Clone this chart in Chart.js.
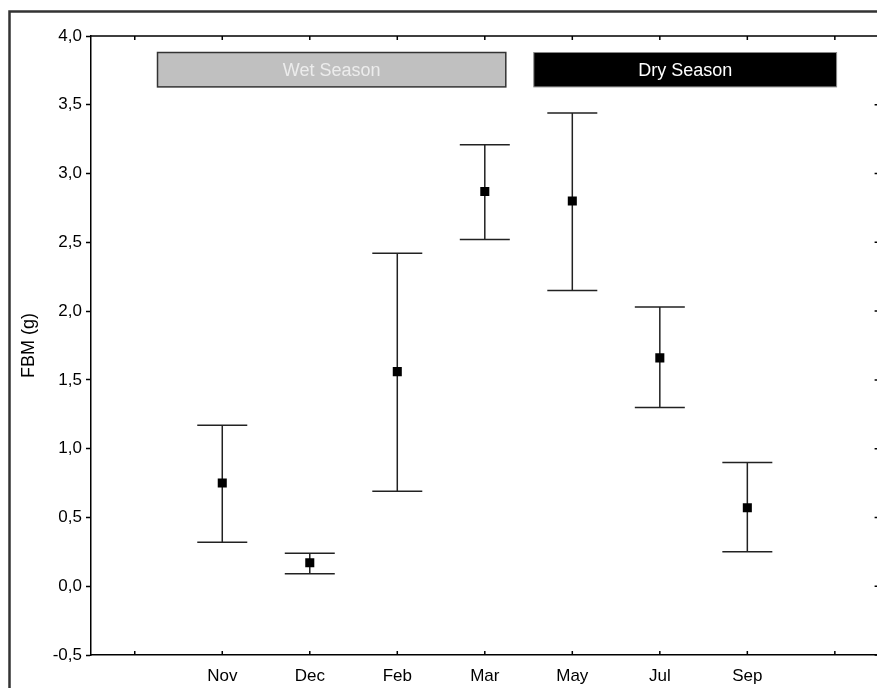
<!DOCTYPE html>
<html>
<head>
<meta charset="utf-8">
<script src="https://cdn.jsdelivr.net/npm/chart.js@4.4.1/dist/chart.umd.min.js"></script>
<style>
  html, body { margin: 0; padding: 0; background: #fff; overflow: hidden; }
  #wrap { width: 877px; height: 688px; overflow: hidden; }
</style>
</head>
<body>
<div id="wrap"><canvas id="fbm" width="885" height="688"></canvas></div>
<script>
// Values
const months = ["Nov", "Dec", "Feb", "Mar", "May", "Jul", "Sep"];
const meanFBM = [0.75, 0.17, 1.56, 2.87, 2.80, 1.66, 0.57];
const upperFBM = [1.17, 0.24, 2.42, 3.21, 3.44, 2.03, 0.90];
const lowerFBM = [0.32, 0.09, 0.69, 2.52, 2.15, 1.30, 0.25];

// Season bands (x in category units, y in FBM units)
const seasonNames = ["Wet Season", "Dry Season"];
const seasonFrom = [0.26, 4.56];
const seasonTo = [4.24, 8.02];
const seasonLow = [3.63, 3.63];
const seasonHigh = [3.88, 3.88];

const FONT = "'Liberation Sans', Arial, sans-serif";

// error bars behind the squares
const errorBars = {
  id: "errorBars",
  beforeDatasetsDraw(chart) {
    const { ctx, scales: { x, y } } = chart;
    ctx.save();
    ctx.strokeStyle = "#222";
    ctx.lineWidth = 1.5;
    months.forEach((m, i) => {
      const px = x.getPixelForValue(i + 1);
      const top = y.getPixelForValue(upperFBM[i]);
      const bot = y.getPixelForValue(lowerFBM[i]);
      ctx.beginPath();
      ctx.moveTo(px, top); ctx.lineTo(px, bot);
      ctx.moveTo(px - 25, top); ctx.lineTo(px + 25, top);
      ctx.moveTo(px - 25, bot); ctx.lineTo(px + 25, bot);
      ctx.stroke();
    });
    ctx.restore();
  }
};

// frame, inward ticks, season boxes
const decorations = {
  id: "decorations",
  beforeDraw(chart) {
    const ctx = chart.ctx;
    ctx.save();
    ctx.strokeStyle = "#333";
    ctx.lineWidth = 2.5;
    ctx.strokeRect(9.5, 11.5, 1000, 1000);
    ctx.restore();
  },
  afterDraw(chart) {
    const { ctx, chartArea: a, scales: { x, y } } = chart;
    ctx.save();
    ctx.strokeStyle = "#000";
    ctx.lineWidth = 1.5;
    ctx.beginPath();
    ctx.moveTo(a.left, a.top); ctx.lineTo(a.right, a.top); ctx.lineTo(a.right, a.bottom);
    for (let i = 0; i <= 8; i++) {
      const px = x.getPixelForValue(i);
      ctx.moveTo(px, a.top); ctx.lineTo(px, a.top + 4);
      ctx.moveTo(px, a.bottom); ctx.lineTo(px, a.bottom - 4);
    }
    y.ticks.forEach(t => {
      const py = y.getPixelForValue(t.value);
      ctx.moveTo(a.right, py); ctx.lineTo(a.right - 4, py);
    });
    ctx.stroke();

    seasonNames.forEach((name, i) => {
      const x0 = x.getPixelForValue(seasonFrom[i]);
      const x1 = x.getPixelForValue(seasonTo[i]);
      const y0 = y.getPixelForValue(seasonHigh[i]);
      const y1 = y.getPixelForValue(seasonLow[i]);
      ctx.fillStyle = i === 0 ? "#c0c0c0" : "#000";
      ctx.fillRect(x0, y0, x1 - x0, y1 - y0);
      ctx.strokeStyle = i === 0 ? "#333" : "#888";
      ctx.lineWidth = i === 0 ? 1.5 : 1;
      ctx.strokeRect(x0, y0, x1 - x0, y1 - y0);
      ctx.fillStyle = i === 0 ? "#ececec" : "#fff";
      ctx.font = "18px " + FONT;
      ctx.textAlign = "center";
      ctx.textBaseline = "middle";
      ctx.fillText(name, (x0 + x1) / 2, (y0 + y1) / 2 + 1);
    });
    ctx.restore();
  }
};

new Chart(document.getElementById("fbm"), {
  type: "scatter",
  data: {
    datasets: [{
      data: months.map((m, i) => ({ x: i + 1, y: meanFBM[i] })),
      pointStyle: "rect",
      pointRadius: 6.4,
      pointHoverRadius: 6.4,
      pointBorderWidth: 0,
      backgroundColor: "#000",
      borderColor: "#000"
    }]
  },
  options: {
    responsive: false,
    animation: false,
    events: [],
    layout: { padding: { left: 0, top: 36, right: 6, bottom: 0 } },
    plugins: { legend: { display: false }, tooltip: { enabled: false } },
    scales: {
      x: {
        type: "linear",
        min: -0.5,
        max: 8.5,
        afterFit: s => { s.height = 33; },
        afterBuildTicks: s => {
          s.ticks = [];
          for (let i = 1; i <= 7; i++) s.ticks.push({ value: i });
        },
        ticks: {
          autoSkip: false,
          maxRotation: 0,
          padding: 11,
          color: "#000",
          font: { family: FONT, size: 17 },
          callback: v => months[v - 1] || ""
        },
        grid: { drawOnChartArea: false, drawTicks: false },
        border: { color: "#000", width: 1.5 }
      },
      y: {
        min: -0.5,
        max: 4.0,
        afterFit: s => { s.width = 91; },
        ticks: {
          stepSize: 0.5,
          padding: 4,
          color: "#000",
          font: { family: FONT, size: 17 },
          callback: v => v.toFixed(1).replace(".", ",")
        },
        grid: { drawOnChartArea: false, drawTicks: true, tickLength: 5, tickColor: "#000", tickWidth: 1.5 },
        border: { color: "#000", width: 1.5 },
        title: {
          display: true,
          text: "FBM (g)",
          color: "#000",
          font: { family: FONT, size: 18 },
          padding: { top: 18, bottom: 0 }
        }
      }
    }
  },
  plugins: [errorBars, decorations]
});
</script>
</body>
</html>
